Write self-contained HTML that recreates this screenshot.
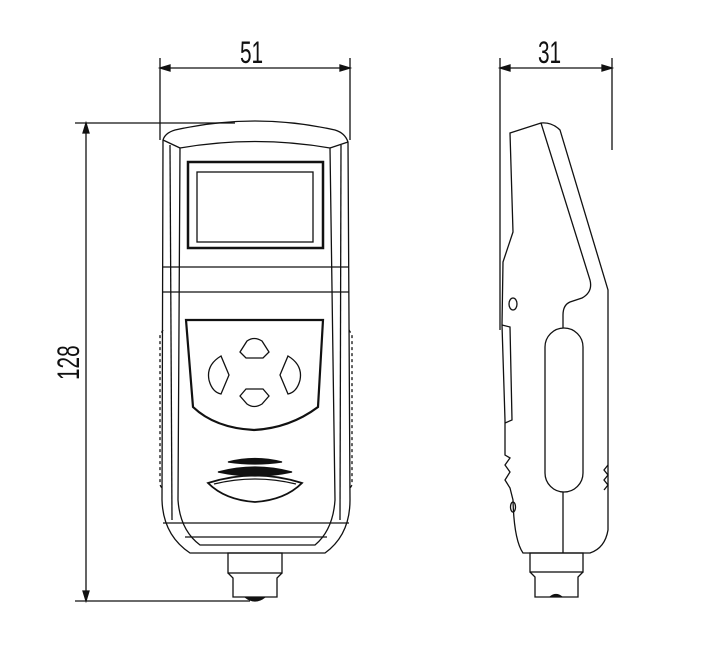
<!DOCTYPE html>
<html><head><meta charset="utf-8"><style>
html,body{margin:0;padding:0;background:#fff;}
svg{display:block;}
text{font-family:"Liberation Sans",sans-serif;font-size:26px;fill:#111;}
</style></head><body>
<svg width="705" height="667" viewBox="0 0 705 667" xmlns="http://www.w3.org/2000/svg" fill="none" stroke="#111" stroke-width="1.3">
<!-- dimensions front -->
<line x1="160" y1="58" x2="160" y2="140"/>
<line x1="350" y1="58" x2="350" y2="140"/>
<line x1="160" y1="68" x2="350" y2="68"/>
<path d="M160 68 l10 -3 v6 z M350 68 l-10 -3 v6 z" fill="#111"/>
<text stroke="none" transform="translate(240,63) scale(0.8,1.2)">51</text>
<line x1="75" y1="123" x2="235" y2="123"/>
<line x1="75" y1="601" x2="250" y2="601"/>
<line x1="86" y1="123" x2="86" y2="601"/>
<path d="M86 123 l-3 10 h6 z M86 601 l-3 -10 h6 z" fill="#111"/>
<text stroke="none" transform="translate(79,380) rotate(-90) scale(0.8,1.2)">128</text>
<!-- front body -->
<path d="M163 140 Q165 133 175 130 Q255 112 335 130 Q345 133 348 142 L350 500 Q350 535 325 553 L190 553 Q163 535 162 500 Z"/>
<path d="M180 148 Q255 135 330 148 L335 500 Q333 530 315 545 L200 545 Q180 530 178 500 Z"/>
<path d="M163 140 L180 148 M348 142 L330 148"/>
<line x1="170" y1="145" x2="172" y2="520"/>
<line x1="341" y1="145" x2="340" y2="520"/>
<rect x="188" y="162" width="135" height="86" stroke-width="2.5"/>
<rect x="197" y="172" width="116" height="70"/>
<line x1="163" y1="267" x2="349" y2="267"/>
<line x1="163" y1="292" x2="349" y2="292"/>
<path d="M186 320 L323 320 L318 407 Q290 428 254 430 Q215 428 193 407 Z" stroke-width="2.2"/>
<path d="M240 352 L247 341 Q254 336 262 341 L269 352 L263 358 L246 358 Z"/>
<path d="M240 396 L246 389 L263 389 L269 396 L262 404 Q254 409 247 404 Z"/>
<path d="M221 356 Q206 365 209 380 Q212 392 221 394 L229 375 Z"/>
<path d="M288 356 Q303 365 300 380 Q297 392 288 394 L280 375 Z"/>
<path d="M228 462 Q255 455 282 462 Q255 466 228 462 Z" fill="#111"/>
<path d="M218 472 Q255 462 292 472 Q255 480 218 472 Z" fill="#111"/>
<path d="M208 483 Q255 468 302 483 Q285 500 255 502 Q225 500 208 483 Z" stroke-width="1.8"/>
<path d="M214 484 Q255 474 296 484"/>
<line x1="163" y1="523" x2="349" y2="523"/>
<line x1="185" y1="537" x2="327" y2="537"/>
<path d="M163 330 l-3 5 v150 l3 5 M349 330 l3 5 v150 l-3 5" stroke-dasharray="3 3"/>
<rect x="228" y="553" width="54" height="20"/>
<path d="M228 573 L233 578 L233 597 L277 597 L277 578 L282 573"/>
<path d="M245 597 q10 8 20 0" fill="#111"/>
<!-- side dims -->
<line x1="500" y1="58" x2="500" y2="330"/>
<line x1="612" y1="58" x2="612" y2="150"/>
<line x1="500" y1="68" x2="612" y2="68"/>
<path d="M500 68 l10 -3 v6 z M612 68 l-10 -3 v6 z" fill="#111"/>
<text stroke="none" transform="translate(538,63) scale(0.8,1.2)">31</text>
<!-- side body -->
<path d="M510 133 L541 123 Q552 122 560 130 L608 290 L608 530 Q605 548 590 553 L523 553 Q514 540 513 500 L510 488 L505 480 L510 472 L505 465 L510 458 L505 455 L505 420 L502 325 L503 262 L513 232 Z"/>
<path d="M541 123 L590 280 Q593 292 582 298 L570 302 Q563 305 563 315 L563 328"/>
<rect x="545" y="328" width="38" height="164" rx="19"/>
<line x1="563" y1="492" x2="563" y2="553"/>
<ellipse cx="513" cy="304" rx="4" ry="6"/>
<path d="M502 325 L510 327 L512 420 L505 423"/>
<ellipse cx="513" cy="507" rx="2.5" ry="5"/>
<path d="M608 465 l-4 5 l4 5 l-4 5 l4 5 l-4 5"/>
<rect x="530" y="553" width="53" height="19"/>
<path d="M530 572 L535 577 L535 597 L578 597 L578 577 L583 572"/>
<path d="M550 597 q6 -5 12 0" fill="#111"/>
</svg>
</body></html>
